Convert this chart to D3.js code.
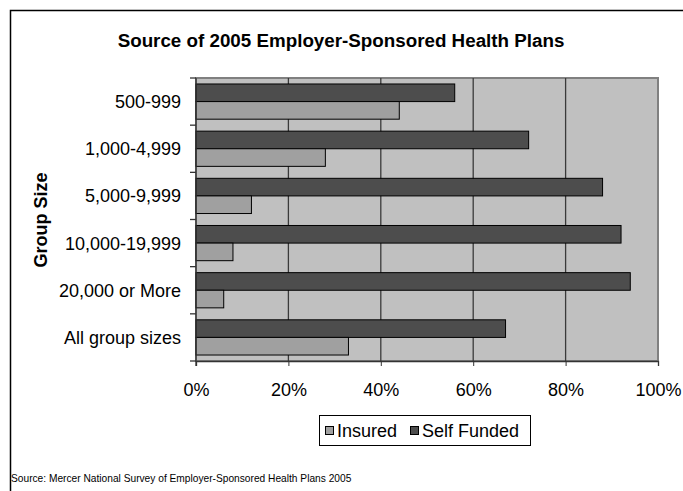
<!DOCTYPE html>
<html>
<head>
<meta charset="utf-8">
<script src="https://cdn.jsdelivr.net/npm/d3@7"></script>
<style>
  body { margin: 0; background: #fff; }
  svg { font-family: "Liberation Sans", Arial, sans-serif; }
</style>
</head>
<body>
<script>
var width = 683, height = 491;

// data
var groups = ["500-999", "1,000-4,999", "5,000-9,999", "10,000-19,999", "20,000 or More", "All group sizes"];
var insured = [44, 28, 12, 8, 6, 33];
var selfFunded = [56, 72, 88, 92, 94, 67];
var xTicks = [0, 20, 40, 60, 80, 100];
var seriesNames = ["Insured", "Self Funded"];
var seriesColors = ["#a0a0a0", "#4d4d4d"];

var plot = { left: 196, right: 658, top: 78, bottom: 361 };

var svg = d3.select("body").append("svg")
  .attr("width", width)
  .attr("height", height);

// outer frame (top and left edges only visible)
svg.append("path")
  .attr("d", "M10.5," + height + "V10.5H" + width)
  .attr("fill", "none")
  .attr("stroke", "#000")
  .attr("stroke-width", 1.5);

svg.append("text")
  .attr("x", 341).attr("y", 47)
  .attr("text-anchor", "middle")
  .attr("font-size", 18.8).attr("font-weight", "bold")
  .text("Source of 2005 Employer-Sponsored Health Plans");

var x = d3.scaleLinear().domain([0, 100]).range([plot.left, plot.right]);
var y = d3.scaleBand().domain(groups).range([plot.top, plot.bottom]).paddingInner(0).paddingOuter(0);
var inner = d3.scaleBand().domain(["self", "ins"]).range([0, y.bandwidth()]).paddingInner(0).paddingOuter(0.34);

// plot background
svg.append("rect")
  .attr("x", plot.left).attr("y", plot.top)
  .attr("width", plot.right - plot.left).attr("height", plot.bottom - plot.top)
  .attr("fill", "#c0c0c0")
  .attr("stroke", "#808080").attr("stroke-width", 2);

// gridlines
svg.append("g").selectAll("line")
  .data(xTicks.slice(1, -1))
  .enter().append("line")
  .attr("x1", function(d) { return x(d); }).attr("x2", function(d) { return x(d); })
  .attr("y1", plot.top).attr("y2", plot.bottom)
  .attr("stroke", "#3a3a3a").attr("stroke-width", 1.3);

var rows = groups.map(function(g, i) { return { g: g, ins: insured[i], self: selfFunded[i] }; });

svg.append("g").selectAll("rect")
  .data(rows)
  .enter().append("rect")
  .attr("x", x(0))
  .attr("y", function(d) { return y(d.g) + inner("self"); })
  .attr("width", function(d) { return x(d.self) - x(0); })
  .attr("height", inner.bandwidth())
  .attr("fill", seriesColors[1])
  .attr("stroke", "#000").attr("stroke-width", 1);

svg.append("g").selectAll("rect")
  .data(rows)
  .enter().append("rect")
  .attr("x", x(0))
  .attr("y", function(d) { return y(d.g) + inner("ins"); })
  .attr("width", function(d) { return x(d.ins) - x(0); })
  .attr("height", inner.bandwidth())
  .attr("fill", seriesColors[0])
  .attr("stroke", "#000").attr("stroke-width", 1);

// x axis
var xAxis = svg.append("g")
  .attr("transform", "translate(0," + plot.bottom + ")")
  .call(d3.axisBottom(x).tickValues(xTicks).tickSize(5)
    .tickFormat(function(d) { return d + "%"; }));
xAxis.select(".domain").attr("stroke", "#333").attr("stroke-width", 1.3);
xAxis.selectAll(".tick line").attr("stroke", "#333");
xAxis.selectAll("text")
  .attr("y", 35).attr("dy", 0)
  .attr("font-size", 18).attr("fill", "#000")
  .attr("font-family", "Liberation Sans, Arial, sans-serif");

// y axis: ticks on band boundaries, labels at band centres
var yAxisG = svg.append("g").attr("transform", "translate(" + plot.left + ",0)");
yAxisG.append("line")
  .attr("x1", 0).attr("x2", 0).attr("y1", plot.top).attr("y2", plot.bottom + 5)
  .attr("stroke", "#333").attr("stroke-width", 1.3);
yAxisG.selectAll(".bt")
  .data(groups.concat(["end"]))
  .enter().append("line")
  .attr("x1", -6).attr("x2", 0)
  .attr("y1", function(d, i) { return plot.top + i * y.bandwidth(); })
  .attr("y2", function(d, i) { return plot.top + i * y.bandwidth(); })
  .attr("stroke", "#333").attr("stroke-width", 1.3);
yAxisG.selectAll(".lbl")
  .data(groups)
  .enter().append("text")
  .attr("x", -15)
  .attr("y", function(d) { return y(d) + y.bandwidth() / 2; })
  .attr("dy", "0.36em")
  .attr("text-anchor", "end")
  .attr("font-size", 18)
  .text(function(d) { return d; });

svg.append("text")
  .attr("transform", "translate(46.5,220) rotate(-90)")
  .attr("text-anchor", "middle")
  .attr("font-size", 18).attr("font-weight", "bold")
  .text("Group Size");

// legend
var legend = svg.append("g");
legend.append("rect")
  .attr("x", 319.5).attr("y", 415.5).attr("width", 211).attr("height", 30)
  .attr("fill", "#fff").attr("stroke", "#000").attr("stroke-width", 1);
var legX = [325, 410];
seriesNames.forEach(function(name, i) {
  legend.append("rect")
    .attr("x", legX[i] + 0.5).attr("y", 426.5).attr("width", 8).attr("height", 8)
    .attr("fill", seriesColors[i]).attr("stroke", "#000").attr("stroke-width", 1);
  legend.append("text")
    .attr("x", legX[i] + 12).attr("y", 437)
    .attr("font-size", 18)
    .text(name);
});

svg.append("text")
  .attr("x", 11).attr("y", 482)
  .attr("font-size", 10.2)
  .text("Source: Mercer National Survey of Employer-Sponsored Health Plans 2005");
</script>
</body>
</html>
